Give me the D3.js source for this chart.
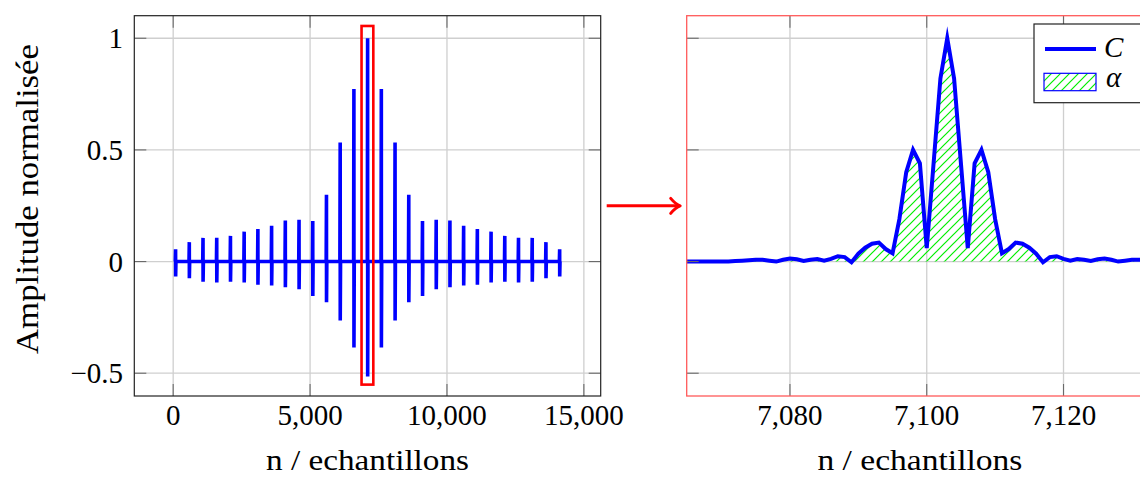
<!DOCTYPE html>
<html><head><meta charset="utf-8">
<script src="https://cdn.jsdelivr.net/npm/d3@7"></script>
<style>html,body{margin:0;padding:0;background:#fff;} svg{display:block;}</style>
</head><body><svg id="chart" width="1140" height="480"></svg>
<script>
// ---------------- data ----------------
const spikePositions = [89, 590, 1091, 1592, 2093, 2594, 3095, 3596, 4097, 4598, 5099, 5600, 6101, 6602, 7103,
  7604, 8105, 8606, 9107, 9608, 10109, 10610, 11111, 11612, 12113, 12614, 13115, 13616, 14117];
const spikeMax = [0.055, 0.087, 0.106, 0.107, 0.115, 0.134, 0.146, 0.16, 0.184, 0.187, 0.182, 0.299, 0.533, 0.773, 1.0,
  0.773, 0.533, 0.299, 0.182, 0.187, 0.184, 0.16, 0.146, 0.134, 0.115, 0.107, 0.106, 0.087, 0.055];
const spikeMin = [-0.067, -0.075, -0.09, -0.094, -0.09, -0.094, -0.104, -0.107, -0.115, -0.124, -0.154, -0.182, -0.264, -0.385, -0.515,
  -0.385, -0.264, -0.182, -0.154, -0.124, -0.115, -0.107, -0.104, -0.094, -0.09, -0.094, -0.09, -0.075, -0.067];
const signalExtent = [40, 14165];

const zoomSamples = [7058, 7065, 7071, 7072, 7073, 7074, 7075, 7076, 7077, 7078, 7079, 7080, 7081, 7082, 7083, 7084, 7085, 7086, 7087, 7088, 7089,
  7090, 7091, 7092, 7093, 7094, 7095, 7096, 7097, 7098, 7099, 7100, 7101, 7102, 7103, 7104, 7105, 7106, 7107, 7108, 7109,
  7110, 7111, 7112, 7113, 7114, 7115, 7116, 7117, 7118, 7119, 7120, 7121, 7122, 7123, 7124, 7125, 7126, 7127, 7128, 7129,
  7130, 7131, 7132, 7133, 7134, 7140];
const zoomValues = [0, 0, 0, 0.002, 0.004, 0.006, 0.008, 0.008, 0.004, 0.0, 0.008, 0.014, 0.01, 0.003, 0.008, 0.011, 0.004, 0.012, 0.024, 0.02, -0.003,
  0.035, 0.062, 0.08, 0.085, 0.056, 0.037, 0.19, 0.40, 0.50, 0.44, 0.06, 0.44, 0.82, 1.0, 0.82, 0.44, 0.06, 0.44, 0.50, 0.40,
  0.19, 0.037, 0.056, 0.085, 0.08, 0.062, 0.035, -0.003, 0.02, 0.024, 0.012, 0.004, 0.011, 0.008, 0.003, 0.01, 0.014, 0.008, 0.0, 0.004,
  0.008, 0.008, 0.006, 0.004, 0.002, 0.002];

const leftXTicks = [0, 5000, 10000, 15000];
const rightXTicks = [7080, 7100, 7120];
const yTicks = [-0.5, 0, 0.5, 1];
const leftXDomain = [-1420, 15615];
const rightXDomain = [7064.9, 7133.1];
const yDomain = [-0.602, 1.101];
const zoomBoxX = [6880, 7310];
const zoomBoxY = [-0.551, 1.055];
const legendLabels = ["C", "α"];
const xLabel = "n / echantillons";
const yLabel = "Amplitude normalisée";

// ---------------- layout ----------------
const svg = d3.select("#chart");
const FONT = "'Liberation Serif', 'Times New Roman', serif";
const pTop = 15.7, pBottom = 396;
const L = {x0: 134.3, x1: 600.7};
const R = {x0: 686.7, x1: 1153.1};

const y = d3.scaleLinear().domain(yDomain).range([pBottom, pTop]);
const xL = d3.scaleLinear().domain(leftXDomain).range([L.x0, L.x1]);
const xR = d3.scaleLinear().domain(rightXDomain).range([R.x0, R.x1]);
const fmt = d3.format(",");
const fmtY = v => (v < 0 ? "\u2212" : "") + Math.abs(v);

const defs = svg.append("defs");
const pat = defs.append("pattern").attr("id", "hatch").attr("patternUnits", "userSpaceOnUse")
  .attr("width", 9).attr("height", 9);
pat.append("path").attr("d", "M0,9 L9,0 M-2.25,2.25 L2.25,-2.25 M6.75,11.25 L11.25,6.75")
  .attr("stroke", "#00ee00").attr("stroke-width", 1.2);
defs.append("clipPath").attr("id", "clipR").append("rect")
  .attr("x", R.x0).attr("y", pTop).attr("width", R.x1 - R.x0).attr("height", pBottom - pTop);

function grid(g, xs, xScale, box) {
  g.selectAll(".gx").data(xs).join("line").attr("class", "gx")
    .attr("x1", d => xScale(d)).attr("x2", d => xScale(d)).attr("y1", pTop).attr("y2", pBottom)
    .attr("stroke", "#cfcfcf").attr("stroke-width", 1.3);
  g.selectAll(".gy").data(yTicks).join("line").attr("class", "gy")
    .attr("x1", box.x0).attr("x2", box.x1).attr("y1", d => y(d)).attr("y2", d => y(d))
    .attr("stroke", "#cfcfcf").attr("stroke-width", 1.3);
}
function ticks(g, xs, xScale, box) {
  const tl = 12;
  const t = g.append("g").attr("stroke", "#6a6a6a").attr("stroke-width", 1.1);
  xs.forEach(d => {
    t.append("line").attr("x1", xScale(d)).attr("x2", xScale(d)).attr("y1", pBottom).attr("y2", pBottom - tl);
    t.append("line").attr("x1", xScale(d)).attr("x2", xScale(d)).attr("y1", pTop).attr("y2", pTop + tl);
  });
  yTicks.forEach(d => {
    t.append("line").attr("x1", box.x0).attr("x2", box.x0 + tl).attr("y1", y(d)).attr("y2", y(d));
    t.append("line").attr("x1", box.x1 - tl).attr("x2", box.x1).attr("y1", y(d)).attr("y2", y(d));
  });
}

// ---------------- left plot ----------------
const gL = svg.append("g");
grid(gL.append("g"), leftXTicks, xL, L);

const sigPts = [[signalExtent[0], 0]];
spikePositions.forEach((c, i) => {
  sigPts.push([c - 12, 0], [c - 1, spikeMax[i]], [c + 1, spikeMin[i]], [c + 12, 0]);
});
sigPts.push([signalExtent[1], 0]);
gL.append("path").datum(sigPts)
  .attr("d", d3.line().x(d => xL(d[0])).y(d => y(d[1])))
  .attr("fill", "none").attr("stroke", "#0000ff").attr("stroke-width", 3.6)
  .attr("stroke-linejoin", "bevel");

ticks(gL, leftXTicks, xL, L);
gL.append("rect").attr("x", L.x0).attr("y", pTop).attr("width", L.x1 - L.x0).attr("height", pBottom - pTop)
  .attr("fill", "none").attr("stroke", "#222").attr("stroke-width", 1.2);

// zoom box
gL.append("rect").attr("x", xL(zoomBoxX[0])).attr("y", y(zoomBoxY[1]))
  .attr("width", xL(zoomBoxX[1]) - xL(zoomBoxX[0])).attr("height", y(zoomBoxY[0]) - y(zoomBoxY[1]))
  .attr("fill", "none").attr("stroke", "#ff0000").attr("stroke-width", 2.6);

// tick labels
gL.selectAll(".xt").data(leftXTicks).join("text").attr("class", "xt")
  .attr("x", d => xL(d)).attr("y", 425).attr("text-anchor", "middle")
  .attr("font-family", FONT).attr("font-size", 29).text(d => fmt(d));
gL.selectAll(".yt").data(yTicks).join("text").attr("class", "yt")
  .attr("x", 123).attr("y", d => y(d) + 10).attr("text-anchor", "end")
  .attr("font-family", FONT).attr("font-size", 29).text(d => fmtY(d));
gL.append("text").attr("x", (L.x0 + L.x1) / 2).attr("y", 470).attr("text-anchor", "middle")
  .attr("font-family", FONT).attr("font-size", 29.5)
  .attr("textLength", 203).attr("lengthAdjust", "spacingAndGlyphs").text(xLabel);
gL.append("text").attr("transform", "translate(38,199) rotate(-90)").attr("text-anchor", "middle")
  .attr("font-family", FONT).attr("font-size", 31)
  .attr("textLength", 310).attr("lengthAdjust", "spacingAndGlyphs").text(yLabel);

// ---------------- arrow ----------------
const ay = (pTop + pBottom) / 2;
const ag = svg.append("g").attr("stroke", "#ff0000").attr("stroke-width", 3).attr("fill", "none");
ag.append("line").attr("x1", L.x1 + 6).attr("x2", R.x0 - 8).attr("y1", ay).attr("y2", ay);
ag.append("path").attr("stroke-linecap", "round").attr("stroke-linejoin", "round")
  .attr("d", `M${R.x0 - 16},${ay - 7.5} Q${R.x0 - 11},${ay - 1.5} ${R.x0 - 6.5},${ay} Q${R.x0 - 11},${ay + 1.5} ${R.x0 - 16},${ay + 7.5}`);

// ---------------- right plot ----------------
const gR = svg.append("g");
grid(gR.append("g"), rightXTicks, xR, R);
const zoomData = zoomSamples.map((s, i) => [s, zoomValues[i]]);
const plotR = gR.append("g").attr("clip-path", "url(#clipR)");
plotR.append("path").datum(zoomData)
  .attr("d", d3.area().x(d => xR(d[0])).y0(y(0)).y1(d => y(d[1])))
  .attr("fill", "url(#hatch)");
plotR.append("path").datum(zoomData)
  .attr("d", d3.line().x(d => xR(d[0])).y(d => y(d[1])))
  .attr("fill", "none").attr("stroke", "#0000ff").attr("stroke-width", 4)
  .attr("stroke-linejoin", "miter").attr("stroke-miterlimit", 10);
ticks(gR, rightXTicks, xR, R);
gR.append("rect").attr("x", R.x0).attr("y", pTop).attr("width", R.x1 - R.x0).attr("height", pBottom - pTop)
  .attr("fill", "none").attr("stroke", "#ff5a5a").attr("stroke-width", 1.3);

gR.selectAll(".xt").data(rightXTicks).join("text").attr("class", "xt")
  .attr("x", d => xR(d)).attr("y", 425).attr("text-anchor", "middle")
  .attr("font-family", FONT).attr("font-size", 29).text(d => fmt(d));
gR.append("text").attr("x", (R.x0 + R.x1) / 2).attr("y", 470).attr("text-anchor", "middle")
  .attr("font-family", FONT).attr("font-size", 29.5)
  .attr("textLength", 205).attr("lengthAdjust", "spacingAndGlyphs").text(xLabel);

// legend
const lg = svg.append("g");
lg.append("rect").attr("x", 1034).attr("y", 24).attr("width", 140).attr("height", 78.7)
  .attr("fill", "#fff").attr("stroke", "#222").attr("stroke-width", 1.2);
lg.append("line").attr("x1", 1045).attr("x2", 1096).attr("y1", 49).attr("y2", 49)
  .attr("stroke", "#0000ff").attr("stroke-width", 4);
lg.append("rect").attr("x", 1044).attr("y", 73.3).attr("width", 52).attr("height", 17.4)
  .attr("fill", "url(#hatch)").attr("stroke", "#0000ff").attr("stroke-width", 1.2);
lg.append("text").attr("x", 1104).attr("y", 56.7).attr("font-family", FONT).attr("font-style", "italic")
  .attr("font-size", 29).text(legendLabels[0]);
lg.append("text").attr("x", 1106).attr("y", 86.7).attr("font-family", FONT).attr("font-style", "italic")
  .attr("font-size", 29).text(legendLabels[1]);
</script></body></html>
